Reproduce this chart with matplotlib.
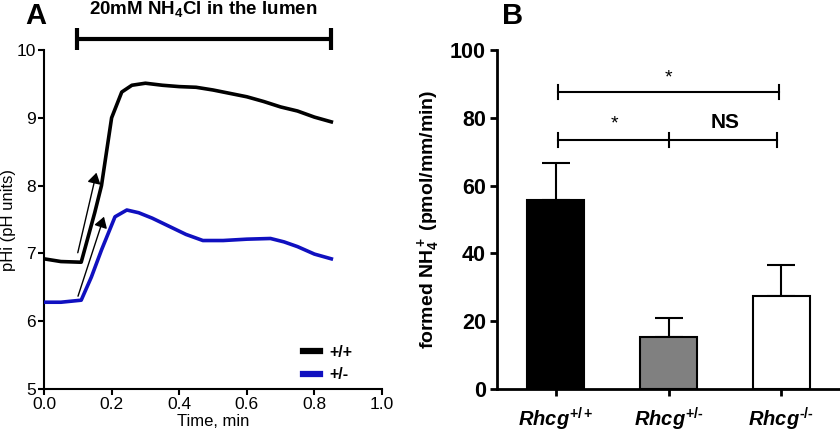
"""Intracellular pH trace (A) and formed NH4+ bar chart (B)."""

import matplotlib

matplotlib.use("Agg")

import matplotlib.pyplot as plt

plt.rcParams["font.family"] = ["Liberation Sans", "DejaVu Sans"]
plt.rcParams["mathtext.fontset"] = "custom"
plt.rcParams["mathtext.rm"] = "Liberation Sans:bold"
plt.rcParams["mathtext.it"] = "Liberation Sans:italic:bold"
plt.rcParams["mathtext.bf"] = "Liberation Sans:bold"

# panel A: pHi traces
time_wt = [0.0, 0.05, 0.11, 0.15, 0.17, 0.20, 0.23, 0.26, 0.30, 0.35, 0.40, 0.45,
           0.50, 0.55, 0.60, 0.65, 0.70, 0.75, 0.80, 0.85]
phi_wt = [6.92, 6.88, 6.87, 7.6, 8.0, 9.0, 9.38, 9.48, 9.51, 9.48, 9.46, 9.45,
          9.41, 9.36, 9.31, 9.24, 9.16, 9.10, 9.01, 8.94]
time_het = [0.0, 0.05, 0.11, 0.14, 0.17, 0.21, 0.245, 0.28, 0.32, 0.37, 0.42, 0.47,
            0.53, 0.60, 0.67, 0.71, 0.75, 0.80, 0.85]
phi_het = [6.28, 6.28, 6.31, 6.65, 7.05, 7.54, 7.64, 7.60, 7.52, 7.40, 7.28, 7.19,
           7.19, 7.21, 7.22, 7.17, 7.10, 6.99, 6.92]
series_labels = ["+/+", "+/-"]

# panel B: formed NH4+
genotypes = ["$Rhcg^{+/+}$", "$Rhcg^{+/\u2010}$", "$Rhcg^{\u2010/\u2010}$"]
nh4_mean = [55.8, 15.3, 27.3]
nh4_sem = [10.9, 5.7, 9.3]
bar_colors = ["black", "#808080", "white"]

fig = plt.figure(figsize=(8.4, 4.37), dpi=100)
ax_a = fig.add_axes([0.0524, 0.1098, 0.4024, 0.7758])
ax_b = fig.add_axes([0.5917, 0.1098, 0.4083, 0.7758])

# ---- A ----
ax_a.plot(time_wt, phi_wt, color="black", lw=2.6, label=series_labels[0], zorder=3)
ax_a.plot(time_het, phi_het, color="#1010c0", lw=2.6, label=series_labels[1], zorder=3)
ax_a.annotate("", xy=(0.157, 8.23), xytext=(0.098, 6.97),
              arrowprops=dict(arrowstyle="-|>,head_width=0.25", color="black", lw=1.0,
                              mutation_scale=16))
ax_a.annotate("", xy=(0.18, 7.58), xytext=(0.098, 6.33),
              arrowprops=dict(arrowstyle="-|>,head_width=0.25", color="black", lw=1.0,
                              mutation_scale=16))

ax_a.set_xlim(0, 1.0)
ax_a.set_ylim(5, 10)
ax_a.set_xticks([0.0, 0.2, 0.4, 0.6, 0.8, 1.0])
ax_a.set_yticks([5, 6, 7, 8, 9, 10])
ax_a.set_xticklabels(["0.0", "0.2", "0.4", "0.6", "0.8", "1.0"])
ax_a.tick_params(labelsize=12.5, width=1.5, length=4, pad=2)
for side in ("top", "right"):
    ax_a.spines[side].set_visible(False)
for side in ("left", "bottom"):
    ax_a.spines[side].set_linewidth(1.5)
ax_a.set_xlabel("Time, min", fontsize=12, labelpad=1)
ax_a.set_ylabel("pHi (pH units)", fontsize=12)
ax_a.yaxis.set_label_coords(-0.083, 0.5)

# NH4Cl application bar
ax_a.plot([0.097, 0.85], [10.16, 10.16], color="black", lw=3, clip_on=False,
          solid_capstyle="butt")
for xe in (0.097, 0.85):
    ax_a.plot([xe, xe], [10.0, 10.33], color="black", lw=3, clip_on=False,
              solid_capstyle="butt")
ax_a.text(0.47, 10.6, "20mM NH$_4$Cl in the lumen", ha="center", va="center",
          fontsize=13.5, fontweight="bold", clip_on=False)

leg = ax_a.legend(loc="center left", bbox_to_anchor=(0.765, 0.075), frameon=False,
                  handlelength=1.1, handletextpad=0.6, borderpad=0, borderaxespad=0,
                  prop={"weight": "bold", "size": 11.5}, labelspacing=0.45)
for line in leg.get_lines():
    line.set_linewidth(4.5)

fig.text(0.043, 0.963, "A", fontsize=21, fontweight="bold", ha="center", va="center")

# ---- B ----
xpos = list(range(len(genotypes)))
ax_b.bar(xpos, nh4_mean, width=0.5, color=bar_colors, edgecolor="black", lw=1.5, zorder=2)
ax_b.errorbar(xpos, nh4_mean, yerr=[[0] * len(nh4_sem), nh4_sem], fmt="none",
              ecolor="black", elinewidth=1.5, capsize=10, capthick=1.5, zorder=1)
ax_b.set_xlim(-0.52, 2.52)
ax_b.set_ylim(0, 100)
ax_b.set_yticks([0, 20, 40, 60, 80, 100])
ax_b.set_xticks(xpos)
ax_b.set_xticklabels(genotypes, fontsize=14.5)
ax_b.tick_params(axis="y", labelsize=15.5, width=2, length=5, pad=3)
ax_b.tick_params(axis="x", width=2, length=5, pad=7)
for lab in ax_b.get_yticklabels():
    lab.set_fontweight("bold")
for side in ("top", "right"):
    ax_b.spines[side].set_visible(False)
for side in ("left", "bottom"):
    ax_b.spines[side].set_linewidth(2)
ax_b.set_ylabel("formed NH$_4^+$ (pmol/mm/min)", fontsize=14, fontweight="bold")
ax_b.yaxis.set_label_coords(-0.16, 0.5)

# significance brackets
ax_b.plot([0.02, 1.98], [87.6, 87.6], color="black", lw=1.5)
for xe in (0.02, 1.98):
    ax_b.plot([xe, xe], [85.5, 89.7], color="black", lw=1.5)
ax_b.text(1.0, 89.3, "*", ha="center", va="bottom", fontsize=14)
ax_b.plot([0.02, 1.96], [73.5, 73.5], color="black", lw=1.5)
for xe in (0.02, 1.0, 1.96):
    ax_b.plot([xe, xe], [71.4, 75.6], color="black", lw=1.5)
ax_b.text(0.52, 75.8, "*", ha="center", va="bottom", fontsize=14)
ax_b.text(1.5, 78.5, "NS", ha="center", va="center", fontsize=15, fontweight="bold")

fig.text(0.6105, 0.963, "B", fontsize=21, fontweight="bold", ha="center", va="center")

fig.savefig("out.png", dpi=100)
